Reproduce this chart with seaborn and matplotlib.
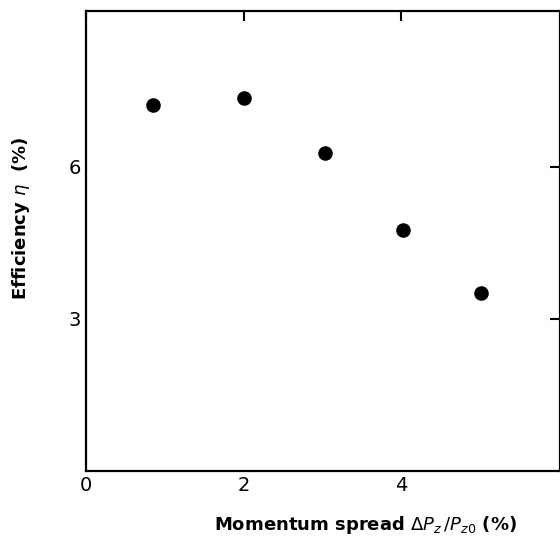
import matplotlib
matplotlib.use("Agg")
import matplotlib.pyplot as plt
import seaborn as sns
import pandas as pd

# data
spread = [0.85, 2.0, 3.03, 4.02, 5.02]
efficiency = [7.23, 7.36, 6.27, 4.76, 3.52]
xticks = [0, 2, 4]
yticks = [3, 6]

sns.set_theme(style="white")
plt.rcParams['font.family'] = ['DejaVu Sans']

df = pd.DataFrame({"spread": spread, "eff": efficiency})

fig = plt.figure(figsize=(5.6, 5.44), dpi=100)
ax = fig.add_axes([0.154, 0.1347, 0.846, 0.845])

sns.scatterplot(data=df, x="spread", y="eff", ax=ax, color="black",
                s=110, edgecolor="black", linewidth=0, legend=False)

ax.set_xlim(0, 6.02)
ax.set_ylim(0, 9.08)
ax.set_xticks(xticks)
ax.set_yticks(yticks)
ax.set_xticklabels([str(t) for t in xticks], fontsize=14, color="black")
ax.set_yticklabels([str(t) for t in yticks], fontsize=14, color="black")
ax.tick_params(direction="in", length=7, width=1.5, top=True, right=True,
               colors="black", pad=4)
for sp in ax.spines.values():
    sp.set_color("black")
    sp.set_linewidth(1.6)

ax.set_xlabel(r"Momentum spread $\Delta P_z\,/P_{z0}$ (%)", fontsize=13,
              fontweight="bold", color="black")
ax.xaxis.set_label_coords(0.59, -0.095)
ax.set_ylabel(r"Efficiency $\eta$  (%)", fontsize=13, fontweight="bold",
              color="black")
ax.yaxis.set_label_coords(-0.115, 0.55)

fig.savefig("out.png", dpi=100, facecolor="white")
